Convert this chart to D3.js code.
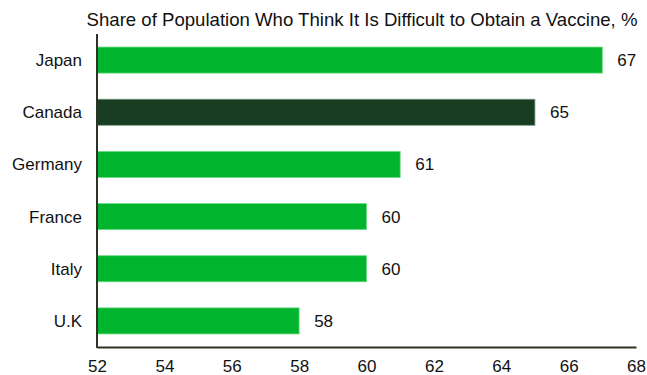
<!DOCTYPE html>
<html>
<head>
<meta charset="utf-8">
<script src="https://cdn.jsdelivr.net/npm/d3@7"></script>
<style>
  html, body { margin: 0; padding: 0; background: #fff; }
  svg { display: block; font-family: "Liberation Sans", Arial, sans-serif; }
</style>
</head>
<body>
<svg id="chart" width="647" height="375"></svg>
<script>
const countries = ["Japan", "Canada", "Germany", "France", "Italy", "U.K"];
const shares = [67, 65, 61, 60, 60, 58];
const highlighted = ["Canada"];
const xTicks = [52, 54, 56, 58, 60, 62, 64, 66, 68];

const svg = d3.select("#chart");
const margin = { top: 34, left: 97, right: 11, bottom: 28 };
const W = 647, H = 375;

const x = d3.scaleLinear().domain([52, 68]).range([margin.left, W - margin.right]);
const y = d3.scaleBand().domain(countries).range([margin.top, H - margin.bottom]).paddingInner(0.5).paddingOuter(0.25);

const data = countries.map((c, i) => ({ country: c, value: shares[i] }));

// Title
svg.append("text")
  .attr("x", 362).attr("y", 26)
  .attr("text-anchor", "middle")
  .attr("font-size", 18.6)
  .attr("fill", "#111")
  .text("Share of Population Who Think It Is Difficult to Obtain a Vaccine, %");

// Bars
svg.append("g").selectAll("rect").data(data).join("rect")
  .attr("x", x(52))
  .attr("y", d => y(d.country))
  .attr("width", d => x(d.value) - x(52))
  .attr("height", y.bandwidth())
  .attr("fill", d => highlighted.includes(d.country) ? "#183d23" : "#00b52d")
  .attr("stroke", d => highlighted.includes(d.country) ? "#7a9a80" : "#6fdc86")
  .attr("stroke-width", 0.8);

// Value labels
svg.append("g").selectAll("text").data(data).join("text")
  .attr("x", d => x(d.value) + 15)
  .attr("y", d => y(d.country) + y.bandwidth() / 2)
  .attr("dy", "0.35em")
  .attr("font-size", 17)
  .attr("fill", "#111")
  .text(d => d.value);

// Category labels
svg.append("g").selectAll("text").data(countries).join("text")
  .attr("x", 82)
  .attr("y", d => y(d) + y.bandwidth() / 2)
  .attr("dy", "0.35em")
  .attr("text-anchor", "end")
  .attr("font-size", 17)
  .attr("fill", "#111")
  .text(d => d);

// X axis
const xAxis = svg.append("g")
  .attr("transform", `translate(0,${H - margin.bottom})`)
  .call(d3.axisBottom(x).tickValues(xTicks).tickSize(0).tickPadding(13).tickFormat(d3.format("d")));
xAxis.select(".domain").attr("stroke", "#2c3325").attr("stroke-width", 2);
xAxis.selectAll("text").attr("font-size", 17).attr("fill", "#111")
  .attr("font-family", "Liberation Sans, Arial, sans-serif");

// Y axis line
svg.append("line")
  .attr("x1", x(52)).attr("x2", x(52))
  .attr("y1", margin.top).attr("y2", H - margin.bottom + 1)
  .attr("stroke", "#2c3325").attr("stroke-width", 2);
</script>
</body>
</html>
